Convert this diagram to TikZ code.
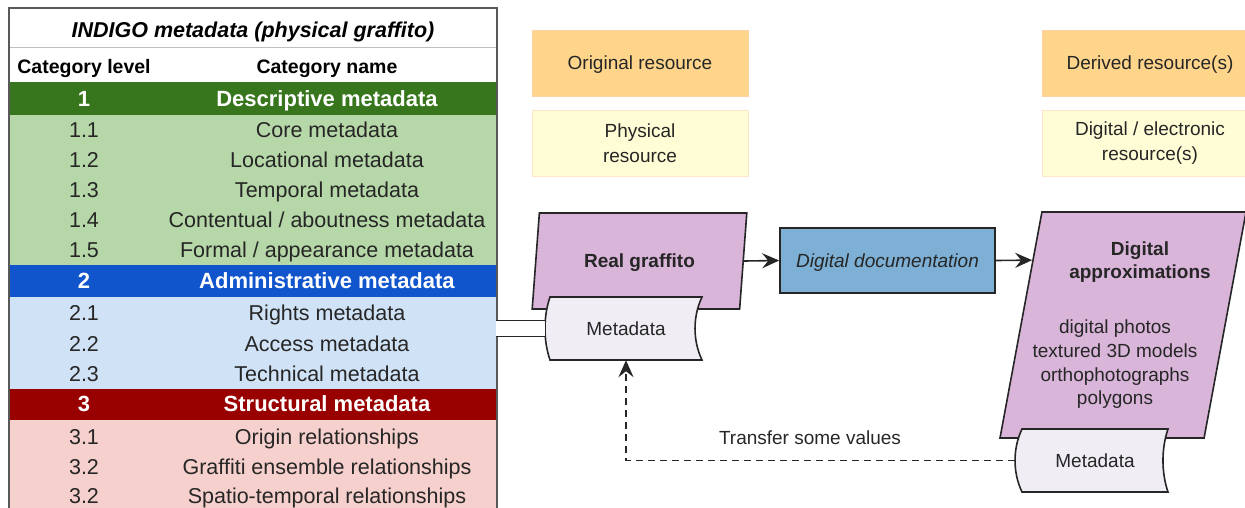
\documentclass[tikz,border=0pt]{standalone}
\usepackage{fontspec}
\setmainfont{Liberation Sans}
\usetikzlibrary{shapes.geometric,arrows.meta,calc}

\definecolor{grndark}{HTML}{38761D}
\definecolor{grnlight}{HTML}{B6D7A8}
\definecolor{bluedark}{HTML}{1155CC}
\definecolor{bluelight}{HTML}{D0E2F5}
\definecolor{reddark}{HTML}{990000}
\definecolor{redlight}{HTML}{F6D0CC}
\definecolor{orangefill}{HTML}{FFD58C}
\definecolor{yellowfill}{HTML}{FFFDD6}
\definecolor{purplefill}{HTML}{D9B5D9}
\definecolor{metafill}{HTML}{F0EDF5}
\definecolor{docfill}{HTML}{7EB0D5}
\definecolor{inkgray}{HTML}{262626}

\tikzset{
  rowtext/.style={inner sep=0pt, text height=15.5pt, text depth=0pt, text=inkgray,
    font=\fontsize{21.5}{25}\selectfont},
  sectext/.style={rowtext, text=white, font=\fontsize{22}{26}\selectfont\bfseries},
  coltext/.style={rowtext, text height=14pt, text=black, font=\fontsize{19.5}{23}\selectfont\bfseries},
  tableline/.style={draw=black!65, line width=1.6pt},
  flowtext/.style={inner sep=0pt, text=inkgray, align=center, font=\fontsize{19}{25}\selectfont},
  oneline/.style={text height=13.6pt, text depth=0pt},
  headtag/.style={flowtext, oneline, fill=orangefill, draw=orange!35, line width=1pt,
    minimum width=216pt, minimum height=66pt},
  kindtag/.style={flowtext, fill=yellowfill, draw=orange!20, line width=1pt,
    minimum width=216pt, minimum height=66pt},
  parallel/.style={trapezium, trapezium left angle=75.5, trapezium right angle=104.5,
    trapezium stretches=true, draw=inkgray, fill=purplefill, line width=1.6pt, inner sep=1pt},
  docstyle/.style={flowtext, oneline, draw=inkgray, fill=docfill, line width=1.6pt,
    minimum width=215pt, minimum height=65pt},
  metashape/.style={draw=inkgray, fill=metafill, line width=1.6pt},
  flowarrow/.style={-{Stealth[length=17pt,width=15pt,inset=6pt]}, draw=inkgray, line width=1.6pt},
  linkline/.style={draw=inkgray, line width=1.6pt, double=white, double distance=14.4pt},
}

\begin{document}
\begin{tikzpicture}[x=1pt,y=-1pt]
  \useasboundingbox (0,0) rectangle (1245,507);
  \clip (0,0) rectangle (1245,507);

  % metadata table
  \fill[white] (9,8) rectangle (497,82);
  \fill[grndark] (9,82) rectangle (497,115);
  \fill[grnlight] (9,115) rectangle (497,265);
  \fill[bluedark] (9,265) rectangle (497,297);
  \fill[bluelight] (9,297) rectangle (497,389);
  \fill[reddark] (9,389) rectangle (497,420);
  \fill[redlight] (9,420) rectangle (497,530);
  \draw[black!25, line width=1pt] (9,47) -- (497,47);
  \draw[tableline] (9,530) -- (9,8) -- (497,8) -- (497,530);

  \node[coltext, font=\fontsize{21.5}{25}\selectfont\bfseries\itshape, text height=15.5pt]
    (tabletitle) at (253,29.5) {INDIGO metadata (physical graffito)};
  \node[coltext] (levelhead) at (84,66.5) {Category level};
  \node[coltext] (namehead) at (327,66.5) {Category name};

  \node[sectext] (sec1) at (84,98.5) {1};
  \node[sectext] (sec1name) at (327,98.5) {Descriptive metadata};
  \node[sectext] (sec2) at (84,281) {2};
  \node[sectext] (sec2name) at (327,281) {Administrative metadata};
  \node[sectext] (sec3) at (84,404) {3};
  \node[sectext] (sec3name) at (327,404) {Structural metadata};

  \foreach \lvl/\nm/\yy [count=\i] in {1.1/Core metadata/130, 1.2/Locational metadata/160,
      1.3/Temporal metadata/190, 1.4/{Contentual / aboutness metadata}/220,
      1.5/{Formal / appearance metadata}/250, 2.1/Rights metadata/313,
      2.2/Access metadata/344, 2.3/Technical metadata/374, 3.1/Origin relationships/437,
      3.2/Graffiti ensemble relationships/467, 3.2/Spatio-temporal relationships/496} {
    \node[rowtext] (lvl\i) at (84,\yy) {\lvl};
    \node[rowtext] (name\i) at (327,\yy) {\nm};
  }
  \coordinate (tableport) at (496,328.5);

  % resource tags
  \node[headtag] (origres) at (640,63) {Original resource};
  \node[kindtag] (physres) at (640,143) {Physical\\resource};
  \node[headtag] (derivres) at (1150,63) {Derived resource(s)};
  \node[kindtag] (digires) at (1150,143) {Digital / electronic\\resource(s)};

  % flow
  \node[parallel, minimum width=215pt, minimum height=96pt, font=\fontsize{19}{25}\selectfont\bfseries,
    text=inkgray, oneline] (graffito) at (639.5,261) {Real graffito};
  \node[docstyle, font=\fontsize{19}{25}\selectfont\itshape] (docbox) at (887.5,260.5) {Digital documentation};
  \node[parallel, minimum width=246pt, minimum height=226pt] (approx) at (1123,325) {~};
  \node[flowtext, font=\fontsize{19}{23}\selectfont\bfseries] (approxtitle) at (1140,262.5) {Digital\\approximations};
  \node[flowtext, font=\fontsize{19}{23.7}\selectfont] (approxlist) at (1115,364.5)
    {digital photos\\textured 3D models\\orthophotographs\\polygons};

  \draw[metashape, shift={(626,328.5)}] (-76,-31.5) .. controls (-82.7,-12) and (-82.7,12) .. (-76,31.5)
    -- (76,31.5) .. controls (66.7,12) and (66.7,-12) .. (76,-31.5) -- cycle;
  \node[flowtext, oneline, minimum width=162pt, minimum height=63pt] (metaL) at (626,328.5) {Metadata};
  \draw[metashape, shift={(1095,460.5)}] (-73,-31.5) .. controls (-82.3,-12) and (-82.3,12) .. (-73,31.5)
    -- (73,31.5) .. controls (66.3,12) and (66.3,-12) .. (73,-31.5) -- cycle;
  \node[flowtext, oneline, minimum width=160pt, minimum height=63pt] (metaR) at (1095,460.5) {Metadata};

  \coordinate (approxin) at ($(approx.bottom left corner)!0.785!(approx.top left corner)$);
  \draw[flowarrow] (graffito.right side) -- (docbox.west);
  \draw[flowarrow] (docbox.east) -- (approxin);
  \draw[linkline] (tableport) -- (metaL.west);
  \draw[flowarrow, dash pattern=on 7pt off 5pt] (metaR.west) -| (metaL.south);
  \node[flowtext, oneline] (xferlabel) at (810,438) {Transfer some values};
\end{tikzpicture}
\end{document}
